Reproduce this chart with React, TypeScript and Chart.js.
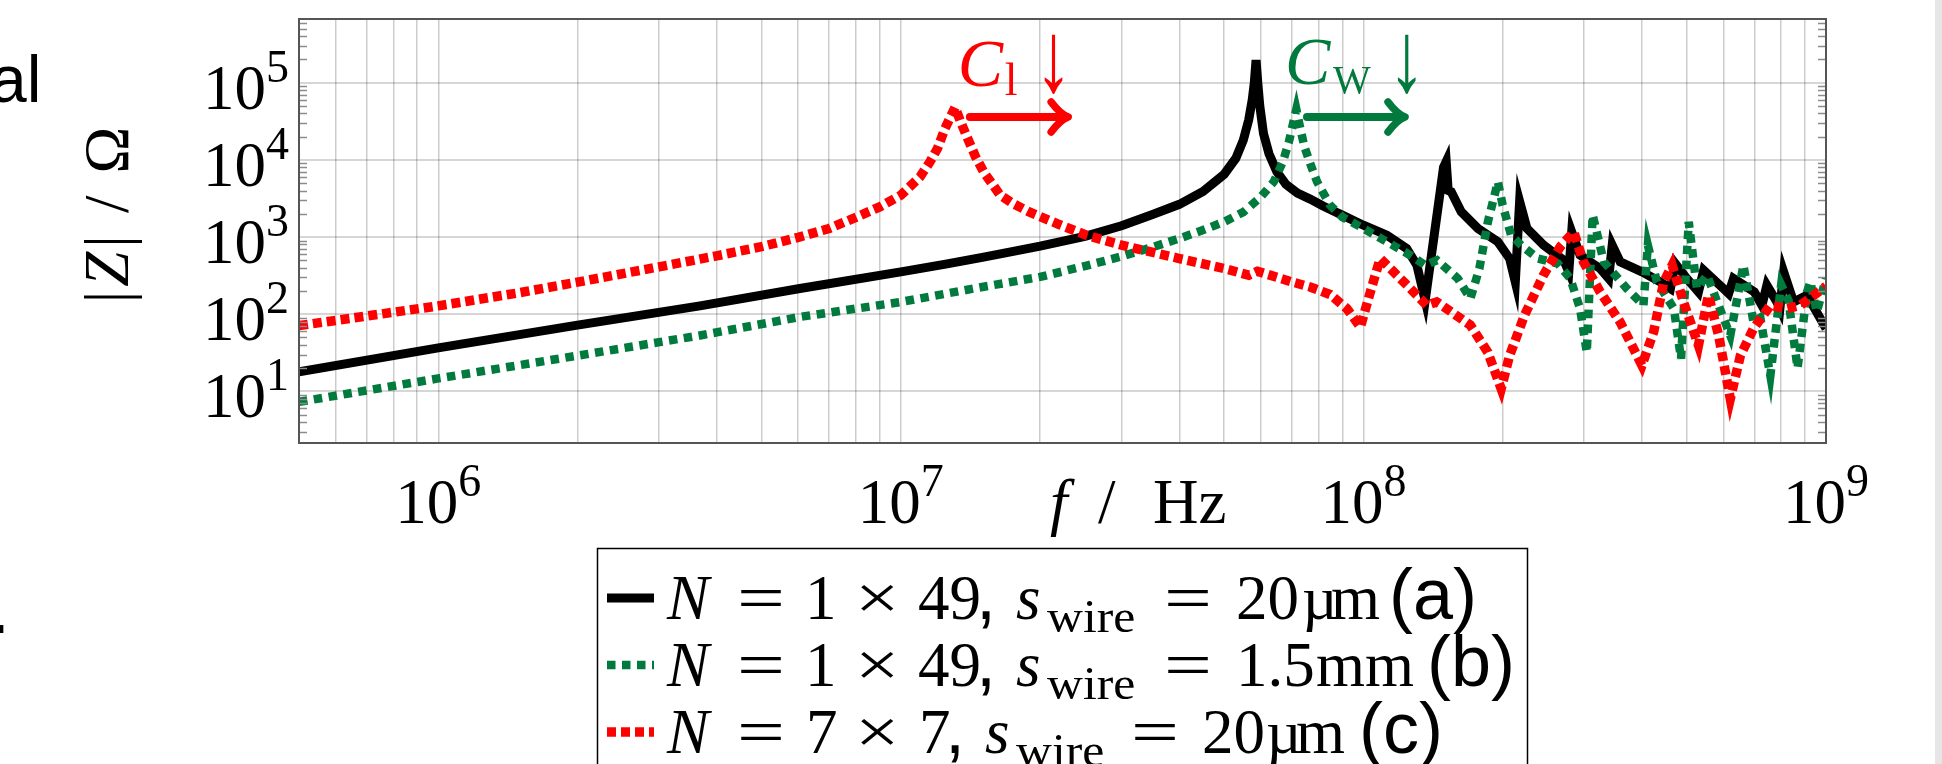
import React, { useEffect, useRef } from 'react';
import { Chart, registerables } from 'chart.js';

Chart.register(...registerables);

// ---------- data ----------
const freqA = [5e5, 1e6, 2e6, 3.68e6, 6.05e6, 1e7, 1.25e7, 1.5e7, 1.75e7, 2e7, 2.5e7, 3e7, 3.5e7, 4e7, 4.5e7, 5e7, 5.3e7, 5.5e7, 5.65e7, 5.75e7, 5.81e7, 5.86e7, 5.91e7, 5.97e7, 6.08e7, 6.25e7, 6.5e7, 6.8e7, 7.2e7, 7.67e7, 8.2e7, 9e7, 1e8, 1.124e8, 1.24e8, 1.305e8, 1.36e8, 1.49e8, 1.51e8, 1.525e8, 1.548e8, 1.627e8, 1.768e8, 1.953e8, 2.07e8, 2.13e8, 2.176e8, 2.257e8, 2.452e8, 2.71e8, 2.78e8, 2.82e8, 2.94e8, 3.25e8, 3.39e8, 3.45e8, 3.59e8, 4e8, 4.38e8, 4.61e8, 4.72e8, 5e8, 5.3e8, 5.44e8, 6e8, 6.16e8, 6.31e8, 7e8, 7.27e8, 7.45e8, 7.83e8, 7.95e8, 8.1e8, 8.51e8, 9.1e8, 1e9];
const zA = [17.9, 36.5, 72, 128, 215, 353, 445, 545, 650, 760, 1020, 1400, 1950, 2650, 3900, 6500, 10500, 18000, 33000, 60000, 100000, 196000, 100000, 50000, 22000, 12000, 7000, 4800, 3700, 3100, 2500, 1920, 1420, 1055, 710, 431, 150, 8000, 9500, 4000, 3850, 2120, 1290, 865, 526, 260, 2900, 1290, 783, 500, 353, 1165, 581, 390, 290, 783, 475, 353, 262, 215, 453, 290, 194, 371, 215, 185, 290, 194, 130, 237, 144, 118, 353, 144, 176, 65];

const freqB = [5e5, 1e6, 2e6, 3.68e6, 6.05e6, 1e7, 1.5e7, 2e7, 2.5e7, 3e7, 3.5e7, 4e7, 4.5e7, 5e7, 5.5e7, 6e7, 6.4e7, 6.7e7, 6.9e7, 7.05e7, 7.16e7, 7.28e7, 7.45e7, 7.67e7, 7.94e7, 8.47e7, 9e7, 1e8, 1.124e8, 1.263e8, 1.36e8, 1.442e8, 1.6e8, 1.703e8, 1.781e8, 1.858e8, 1.953e8, 2e8, 2.086e8, 2.193e8, 2.384e8, 2.633e8, 2.8e8, 2.94e8, 3.04e8, 3.13e8, 3.31e8, 3.71e8, 4.03e8, 4.12e8, 4.31e8, 4.69e8, 4.86e8, 5.05e8, 5.26e8, 5.53e8, 5.82e8, 6.21e8, 6.63e8, 6.97e8, 7.21e8, 7.58e8, 8e8, 8.3e8, 8.68e8, 9.1e8, 9.25e8, 9.55e8, 1e9];
const zB = [7.3, 14.7, 29, 53, 92, 144, 225, 304, 420, 560, 740, 955, 1230, 1570, 2100, 3300, 5200, 9500, 17000, 30000, 45000, 28000, 15000, 9000, 5190, 2580, 1820, 1290, 865, 581, 431, 500, 290, 159, 390, 1570, 5190, 2580, 1055, 783, 526, 453, 290, 118, 32, 1920, 475, 215, 130, 783, 262, 118, 26.5, 1570, 215, 320, 144, 53, 431, 79, 90, 16, 240, 150, 20, 194, 262, 107, 290];

const freqC = [5e5, 1e6, 1.5e6, 2e6, 3e6, 4e6, 5e6, 6e6, 7e6, 8e6, 9e6, 1e7, 1.1e7, 1.156e7, 1.2e7, 1.246e7, 1.31e7, 1.35e7, 1.389e7, 1.45e7, 1.51e7, 1.64e7, 1.75e7, 1.9e7, 2.2e7, 2.52e7, 3e7, 4e7, 5e7, 5.65e7, 5.9e7, 7e7, 7.67e7, 8.47e7, 9.21e7, 9.85e7, 1.035e8, 1.087e8, 1.143e8, 1.263e8, 1.37e8, 1.44e8, 1.548e8, 1.703e8, 1.858e8, 1.985e8, 2.07e8, 2.23e8, 2.45e8, 2.665e8, 2.85e8, 2.99e8, 3.25e8, 3.59e8, 4e8, 4.24e8, 4.46e8, 4.65e8, 4.92e8, 5.3e8, 5.57e8, 5.86e8, 6.21e8, 6.53e8, 6.97e8, 7.58e8, 8.23e8, 8.8e8, 1e9];
const zC = [71, 128, 190, 260, 410, 570, 750, 990, 1288, 1800, 2455, 3480, 6000, 9400, 14000, 25500, 48000, 30000, 20000, 11000, 6980, 3480, 2700, 2100, 1450, 1055, 783, 526, 390, 320, 360, 262, 225, 180, 118, 68, 194, 526, 390, 215, 130, 144, 107, 72, 32, 10.8, 29, 97, 320, 750, 1165, 475, 194, 79, 21.7, 58.7, 262, 431, 144, 39.5, 176, 53, 8, 29, 65, 130, 118, 130, 230];

const X_MIN = 5e5;
const X_MAX = 1e9;
const Y_MIN = 2.14;
const Y_MAX = 6.68e5;
const xDecades = [6, 7, 8, 9];
const yDecades = [1, 2, 3, 4, 5];
const minorMultipliers = [2, 3, 4, 5, 6, 7, 8, 9];

// annotation anchors (data coordinates)
const arrowRed = { f0: 1.41e7, f1: 2.3e7, z: 35800 };
const arrowGreen = { f0: 7.55e7, f1: 1.23e8, z: 35800 };

const RED = '#ff0000';
const GREEN = '#007a3d';
const BLACK = '#000000';

const W_A = 9;
const W_B = 8.5;
const W_C = 9.5;
const DASH_B = [8.5, 6.5];
const DASH_C = [9, 5];

const SERIF = '"Liberation Serif", "DejaVu Serif", serif';
const SANS = '"Liberation Sans", "DejaVu Sans", sans-serif';

function txt(ctx: CanvasRenderingContext2D, s: string, x: number, y: number, font: string, color = '#000', sx = 1) {
  ctx.save();
  ctx.font = font;
  ctx.fillStyle = color;
  ctx.textAlign = 'left';
  ctx.textBaseline = 'alphabetic';
  ctx.translate(x, y);
  ctx.scale(sx, 1);
  ctx.fillText(s, 0, 0);
  ctx.restore();
}

function width(ctx: CanvasRenderingContext2D, s: string, font: string) {
  ctx.save();
  ctx.font = font;
  const w = ctx.measureText(s).width;
  ctx.restore();
  return w;
}

function buildXTicks() {
  const out: number[] = [];
  for (let e = 5; e <= 9; e++) {
    for (let m = 1; m <= 9; m++) {
      const v = m * Math.pow(10, e);
      if (v >= X_MIN * 0.999 && v <= X_MAX * 1.001) out.push(v);
    }
  }
  return out;
}

function drawThickArrow(ctx: CanvasRenderingContext2D, x0: number, x1: number, y: number, color: string) {
  ctx.save();
  ctx.strokeStyle = color;
  ctx.lineCap = 'round';
  ctx.lineJoin = 'round';
  ctx.lineWidth = 8;
  ctx.beginPath();
  ctx.moveTo(x0, y);
  ctx.lineTo(x1 - 3, y);
  ctx.stroke();
  ctx.lineWidth = 7.5;
  ctx.beginPath();
  ctx.moveTo(x1 - 17, y - 15);
  ctx.quadraticCurveTo(x1 - 8, y - 3, x1, y);
  ctx.quadraticCurveTo(x1 - 8, y + 3, x1 - 17, y + 15);
  ctx.stroke();
  ctx.restore();
}

const overlay = {
  id: 'overlay',
  afterDraw(chart: any) {
    const ctx: CanvasRenderingContext2D = chart.ctx;
    const xs = chart.scales.x;
    const ys = chart.scales.y;
    const area = chart.chartArea;

    // minor y ticks (inside, left and right)
    ctx.save();
    ctx.strokeStyle = '#8c8c8c';
    ctx.lineWidth = 1.3;
    for (let e = 0; e <= 5; e++) {
      for (const m of minorMultipliers) {
        const v = m * Math.pow(10, e);
        if (v < Y_MIN || v > Y_MAX) continue;
        const y = Math.round(ys.getPixelForValue(v)) + 0.5;
        ctx.beginPath();
        ctx.moveTo(area.left, y);
        ctx.lineTo(area.left + 8, y);
        ctx.moveTo(area.right - 8, y);
        ctx.lineTo(area.right, y);
        ctx.stroke();
      }
    }
    ctx.restore();

    // frame
    ctx.save();
    ctx.strokeStyle = '#555555';
    ctx.lineWidth = 2;
    ctx.strokeRect(area.left, area.top, area.right - area.left, area.bottom - area.top);
    ctx.restore();

    const F_BASE = `63px ${SERIF}`;
    const F_SUP = `46px ${SERIF}`;

    // y tick labels
    for (const k of yDecades) {
      const y = ys.getPixelForValue(Math.pow(10, k));
      const w10 = width(ctx, '10', F_BASE);
      const ws = width(ctx, String(k), F_SUP);
      const right = area.left - 10;
      txt(ctx, '10', right - ws - w10, y + 26, F_BASE);
      txt(ctx, String(k), right - ws, y - 1, F_SUP);
    }

    // x tick labels
    for (const k of xDecades) {
      const x = xs.getPixelForValue(Math.pow(10, k));
      const w10 = width(ctx, '10', F_BASE);
      const ws = width(ctx, String(k), F_SUP);
      const left = x - (w10 + ws) / 2;
      txt(ctx, '10', left, 523, F_BASE);
      txt(ctx, String(k), left + w10, 496, F_SUP);
    }

    // x title: f / Hz
    txt(ctx, 'f', 1050, 523, `italic 63px ${SERIF}`);
    txt(ctx, '/', 1098, 523, F_BASE);
    txt(ctx, 'Hz', 1153, 523, F_BASE);

    // y title: |Z| / Ω (rotated)
    ctx.save();
    ctx.translate(128, 215);
    ctx.rotate(-Math.PI / 2);
    const parts: [string, string, number][] = [
      ['|', F_BASE, 0],
      ['Z', `italic 63px ${SERIF}`, 4],
      ['|', F_BASE, 4],
      ['/', F_BASE, 22],
      ['Ω', F_BASE, 22],
    ];
    let total = 0;
    for (const [s, f, g] of parts) total += g + width(ctx, s, f);
    let cx = -total / 2;
    for (const [s, f, g] of parts) {
      cx += g;
      txt(ctx, s, cx, 0, f);
      cx += width(ctx, s, f);
    }
    ctx.restore();

    // annotations
    const F_ARROW = `100px ${SERIF}`;
    const rx0 = xs.getPixelForValue(arrowRed.f0);
    const rx1 = xs.getPixelForValue(arrowRed.f1);
    const ry = ys.getPixelForValue(arrowRed.z);
    drawThickArrow(ctx, rx0, rx1, ry, RED);
    txt(ctx, 'C', rx0 - 12, ry - 31, `italic 68px ${SERIF}`, RED);
    txt(ctx, 'l', rx0 + 35, ry - 22, `46px ${SERIF}`, RED);
    txt(ctx, '↓', rx0 + 65, ry - 26, F_ARROW, RED, 0.75);

    const gx0 = xs.getPixelForValue(arrowGreen.f0);
    const gx1 = xs.getPixelForValue(arrowGreen.f1);
    const gy = ys.getPixelForValue(arrowGreen.z);
    drawThickArrow(ctx, gx0, gx1, gy, GREEN);
    txt(ctx, 'C', gx0 - 22, gy - 33, `italic 68px ${SERIF}`, GREEN);
    txt(ctx, 'W', gx0 + 26, gy - 24, `40px ${SERIF}`, GREEN);
    txt(ctx, '↓', gx0 + 81, gy - 26, F_ARROW, GREEN, 0.75);

    // legend box
    ctx.save();
    ctx.strokeStyle = '#000';
    ctx.lineWidth = 1.5;
    ctx.strokeRect(597.5, 548.5, 930, 240);
    ctx.restore();

    const F_IT = `italic 63px ${SERIF}`;
    const F_SUB = `46px ${SERIF}`;
    const F_SANS = `72px ${SANS}`;
    const F_MU = `62px ${SERIF}`;
    const rows = [
      { base: 619, color: BLACK, dash: [] as number[], lw: W_A,
        runs: [['N', F_IT, 667, 0, 1], ['=', F_BASE, 737, 0, 1.35], ['1', F_BASE, 805, 0, 1], ['×', F_BASE, 855, 0, 1.25], ['49', F_BASE, 918, 0, 1], [',', F_SANS, 976, 0, 1], ['s', F_IT, 1016, 0, 1], ['wire', F_SUB, 1047, 13, 1.08], ['=', F_BASE, 1164, 0, 1.35], ['20', F_BASE, 1236, 0, 1], ['µ', F_MU, 1302, 0, 1], ['m', F_BASE, 1331, 0, 1], ['(a)', F_SANS, 1389, 0, 1]] },
      { base: 686, color: GREEN, dash: DASH_B, lw: W_B,
        runs: [['N', F_IT, 667, 0, 1], ['=', F_BASE, 737, 0, 1.35], ['1', F_BASE, 805, 0, 1], ['×', F_BASE, 855, 0, 1.25], ['49', F_BASE, 918, 0, 1], [',', F_SANS, 976, 0, 1], ['s', F_IT, 1016, 0, 1], ['wire', F_SUB, 1047, 13, 1.08], ['=', F_BASE, 1164, 0, 1.35], ['1.5', F_BASE, 1236, 0, 1], ['mm', F_BASE, 1316, 0, 1], ['(b)', F_SANS, 1427, 0, 1]] },
      { base: 753, color: RED, dash: DASH_C, lw: W_C,
        runs: [['N', F_IT, 667, 0, 1], ['=', F_BASE, 737, 0, 1.35], ['7', F_BASE, 806, 0, 1], ['×', F_BASE, 855, 0, 1.25], ['7', F_BASE, 919, 0, 1], [',', F_SANS, 945, 0, 1], ['s', F_IT, 985, 0, 1], ['wire', F_SUB, 1016, 13, 1.08], ['=', F_BASE, 1131, 0, 1.35], ['20', F_BASE, 1202, 0, 1], ['µ', F_MU, 1266, 0, 1], ['m', F_BASE, 1296, 0, 1], ['(c)', F_SANS, 1359, 0, 1]] },
    ];
    for (const r of rows) {
      ctx.save();
      ctx.strokeStyle = r.color;
      ctx.lineWidth = r.lw;
      ctx.setLineDash(r.dash);
      ctx.beginPath();
      ctx.moveTo(607, r.base - 21);
      ctx.lineTo(654, r.base - 21);
      ctx.stroke();
      ctx.restore();
      for (const run of r.runs) {
        const [s, f, x, dy, sx] = run as [string, string, number, number, number];
        txt(ctx, s, x, r.base + dy, f, '#000', sx);
      }
    }

    // cropped neighbouring text at the left edge
    txt(ctx, 'al', -10, 102, `66px ${SANS}`);
    txt(ctx, '-', -16, 646, `bold 66px ${SANS}`);

    // grey strip at the right edge
    ctx.save();
    ctx.fillStyle = '#e6e6e6';
    ctx.fillRect(1935, 0, 7, 764);
    ctx.restore();
  },
};

export default function App() {
  const ref = useRef<HTMLCanvasElement>(null);
  useEffect(() => {
    document.body.style.margin = '0';
    const canvas = ref.current;
    if (!canvas) return;
    const xTicks = buildXTicks();
    const yGrid = yDecades.map((k) => Math.pow(10, k));
    const mk = (fs: number[], zs: number[]) => fs.map((f, i) => ({ x: f, y: zs[i] }));
    const chart = new Chart(canvas, {
      type: 'line',
      data: {
        datasets: [
          { label: 'a', data: mk(freqA, zA), borderColor: BLACK, borderWidth: W_A, pointRadius: 0, tension: 0, fill: false, order: 3, borderJoinStyle: 'miter' },
          { label: 'b', data: mk(freqB, zB), borderColor: GREEN, borderWidth: W_B, borderDash: DASH_B, pointRadius: 0, tension: 0, fill: false, order: 2, borderJoinStyle: 'miter' },
          { label: 'c', data: mk(freqC, zC), borderColor: RED, borderWidth: W_C, borderDash: DASH_C, pointRadius: 0, tension: 0, fill: false, order: 1, borderJoinStyle: 'miter' },
        ] as any,
      },
      options: {
        responsive: false,
        animation: false,
        devicePixelRatio: 1,
        parsing: false as any,
        layout: { padding: { left: 299, top: 19, right: 116, bottom: 321 } },
        plugins: { legend: { display: false }, tooltip: { enabled: false } },
        scales: {
          x: {
            type: 'logarithmic',
            min: X_MIN,
            max: X_MAX,
            afterBuildTicks: (s: any) => { s.ticks = xTicks.map((v) => ({ value: v })); },
            afterFit: (s: any) => { s.height = 0; },
            ticks: { display: false },
            grid: { color: 'rgba(0,0,0,0.2)', lineWidth: 1.5, drawTicks: false },
            border: { display: false },
          },
          y: {
            type: 'logarithmic',
            min: Y_MIN,
            max: Y_MAX,
            afterBuildTicks: (s: any) => { s.ticks = yGrid.map((v) => ({ value: v })); },
            afterFit: (s: any) => { s.width = 0; },
            ticks: { display: false },
            grid: { color: 'rgba(0,0,0,0.16)', lineWidth: 2, drawTicks: false },
            border: { display: false },
          },
        },
      } as any,
      plugins: [overlay as any],
    });
    return () => chart.destroy();
  }, []);
  return (
    <div style={{ position: 'relative', width: 1942, height: 764, overflow: 'hidden', background: '#fff' }}>
      <canvas ref={ref} width={1942} height={764} style={{ display: 'block', width: 1942, height: 764 }} />
    </div>
  );
}
